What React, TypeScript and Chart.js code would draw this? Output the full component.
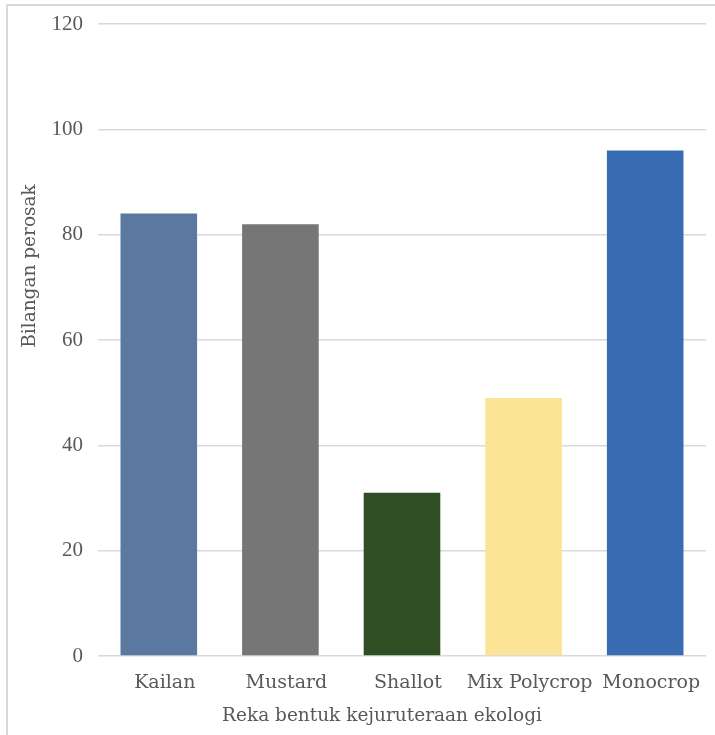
import React, { useEffect, useRef } from "react";
import { Chart, registerables } from "chart.js";

Chart.register(...registerables);

const categories = ["Kailan", "Mustard", "Shallot", "Mix Polycrop", "Monocrop"];
const values = [84, 82, 31, 49, 96];
const barColors = ["#5b79a0", "#767676", "#304e23", "#fbe495", "#3a6cb4"];
const yTicks = [0, 20, 40, 60, 80, 100, 120];
const yTitle = "Bilangan perosak";
const xTitle = "Reka bentuk kejuruteraan ekologi";

const FONT = "'DejaVu Serif', serif";
const NUMFONT = "'Liberation Serif', serif";
const TEXT = "#595959";

const framePlugin = {
  id: "frame",
  beforeDraw(chart: any) {
    const ctx = chart.ctx;
    ctx.save();
    ctx.fillStyle = "#ffffff";
    ctx.fillRect(0, 0, chart.width, chart.height);
    ctx.strokeStyle = "#d9d9d9";
    ctx.lineWidth = 2;
    ctx.beginPath();
    ctx.moveTo(7, chart.height + 5);
    ctx.lineTo(7, 5);
    ctx.lineTo(chart.width + 5, 5);
    ctx.stroke();
    ctx.restore();
  },
  afterDraw(chart: any) {
    const ctx = chart.ctx;
    ctx.save();
    ctx.fillStyle = TEXT;
    ctx.font = "18.5px " + FONT;
    ctx.textAlign = "center";
    ctx.textBaseline = "middle";
    ctx.fillText(xTitle, 382, 716);
    ctx.translate(30, 266);
    ctx.rotate(-Math.PI / 2);
    ctx.fillText(yTitle, 0, 0);
    ctx.restore();
  },
};

export default function App() {
  const ref = useRef<HTMLCanvasElement>(null);
  useEffect(() => {
    if (!ref.current) return;
    const chart = new Chart(ref.current, {
      type: "bar",
      data: {
        labels: categories,
        datasets: [
          {
            data: values,
            backgroundColor: barColors,
            categoryPercentage: 1,
            barPercentage: 0.63,
          },
        ],
      },
      plugins: [framePlugin],
      options: {
        responsive: false,
        animation: false,
        layout: { padding: { top: 24, right: 9, left: 12, bottom: 4 } },
        plugins: { legend: { display: false }, tooltip: { enabled: false } },
        scales: {
          x: {
            grid: { display: false },
            border: { display: false },
            ticks: {
              color: TEXT,
              font: { family: FONT, size: 19 },
              padding: 8,
              labelOffset: 6,
              maxRotation: 0,
              autoSkip: false,
            },
            afterFit: (s: any) => {
              s.height = 735 - 656 - 4;
              s.paddingLeft = 0;
              s.paddingRight = 0;
            },
          },
          y: {
            min: 0,
            max: 120,
            afterBuildTicks: (s: any) => {
              s.ticks = yTicks.map((v) => ({ value: v }));
            },
            grid: { color: "#d9d9d9", lineWidth: 1.5, drawTicks: false },
            border: { display: false },
            ticks: {
              color: TEXT,
              font: { family: NUMFONT, size: 21 },
              padding: 15,
            },
            afterFit: (s: any) => {
              s.width = 98 - 12;
              s.paddingTop = 0;
              s.paddingBottom = 0;
            },
          },
        },
      },
    });
    return () => chart.destroy();
  }, []);
  return (
    <div style={{ position: "absolute", left: 0, top: 0, width: 715, height: 735 }}>
      <canvas ref={ref} width={715} height={735} />
    </div>
  );
}
